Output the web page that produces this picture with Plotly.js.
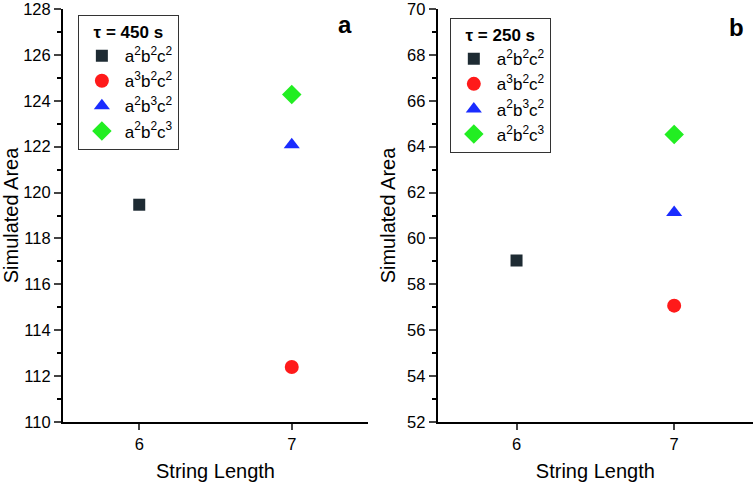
<!DOCTYPE html>
<html><head><meta charset="utf-8">
<script src="https://cdn.plot.ly/plotly-3.0.1.min.js"></script>
<style>body{margin:0;background:#fff}#c{width:756px;height:485px}</style>
</head><body><div id="c"></div>
<script>
const seriesNames = ["a<sup>2</sup>b<sup>2</sup>c<sup>2</sup>","a<sup>3</sup>b<sup>2</sup>c<sup>2</sup>","a<sup>2</sup>b<sup>3</sup>c<sup>2</sup>","a<sup>2</sup>b<sup>2</sup>c<sup>3</sup>"];
const stringLength = [6, 7, 7, 7];
const areaA = [119.47, 112.4, 122.08, 124.27];   // tau = 450 s
const areaB = [59.04, 57.07, 61.13, 64.53];      // tau = 250 s
const symbols = ["square","circle","triangle-up","diamond"];
const colors = ["#1e2b33","#ff1a1a","#1a2cff","#22ee22"];
const sizes = [12, 14, 14, 15];
const panelTitles = ["τ = 450 s","τ = 250 s"];
const panelLabels = ["a","b"];
const yTicksA = [110,112,114,116,118,120,122,124,126,128];
const yTicksB = [52,54,56,58,60,62,64,66,68,70];

const traces = [];
[areaA, areaB].forEach((vals, p) => {
  vals.forEach((v, i) => {
    traces.push({
      x: [stringLength[i]], y: [v], type: 'scatter', mode: 'markers',
      name: seriesNames[i],
      marker: {symbol: symbols[i], color: colors[i], size: sizes[i]},
      xaxis: p === 0 ? 'x' : 'x2', yaxis: p === 0 ? 'y' : 'y2',
      legend: p === 0 ? 'legend' : 'legend2'
    });
  });
});

const font = {family: 'Liberation Sans, Arial, sans-serif', color: '#000', size: 16};
function xax(domain, anchor) {
  return {domain: domain, anchor: anchor, range: [5.5, 7.5], tickvals: [6, 7],
    showline: true, linecolor: '#000', linewidth: 2, ticks: 'outside', ticklen: 6, tickwidth: 2,
    showgrid: false, zeroline: false, tickfont: {size: 16.5}, automargin: false,
    title: {text: 'String Length', font: {size: 20}, standoff: 12}};
}
function yax(range, tv, anchor) {
  return {range: range, tickvals: tv, anchor: anchor, domain: [0, 1],
    showline: true, linecolor: '#000', linewidth: 2, ticks: 'outside', ticklen: 7, tickwidth: 2,
    minor: {dtick: 1, ticks: 'outside', ticklen: 4, tickwidth: 2, tickcolor: '#000', showgrid: false},
    showgrid: false, zeroline: false, tickfont: {size: 16.5}, automargin: false,
    ticklabeloverflow: 'allow',
    title: {text: 'Simulated Area', font: {size: 20}, standoff: 6}};
}
function leg(x, y, title) {
  return {x: x, y: y, xref: 'paper', yref: 'paper', xanchor: 'left', yanchor: 'top',
    bgcolor: 'rgba(255,255,255,0)', bordercolor: '#333', borderwidth: 1,
    title: {text: '<b>' + title + '</b>', side: 'top center', font: {size: 17}},
    font: {size: 17}, tracegroupgap: 0, itemwidth: 36};
}
const layout = {
  width: 756, height: 485, margin: {l: 0, r: 0, t: 9, b: 63},
  paper_bgcolor: '#fff', plot_bgcolor: '#fff', font: font, showlegend: true,
  xaxis: xax([0.0833, 0.4868], 'y'),
  yaxis: yax([110, 128], yTicksA, 'x'),
  xaxis2: xax([0.579, 0.996], 'y2'),
  yaxis2: yax([52, 70], yTicksB, 'x2'),
  legend: leg(0.103, 0.9855, panelTitles[0]),
  legend2: leg(0.595, 0.978, panelTitles[1]),
  annotations: [
    {text: '<b>' + panelLabels[0] + '</b>', x: 345/756, y: (422-24)/413, xref: 'paper', yref: 'paper', xanchor: 'center', yanchor: 'middle', showarrow: false, font: {size: 24}},
    {text: '<b>' + panelLabels[1] + '</b>', x: 736/756, y: (422-27)/413, xref: 'paper', yref: 'paper', xanchor: 'center', yanchor: 'middle', showarrow: false, font: {size: 24}}
  ]
};
Plotly.newPlot('c', traces, layout, {staticPlot: true});
</script></body></html>
